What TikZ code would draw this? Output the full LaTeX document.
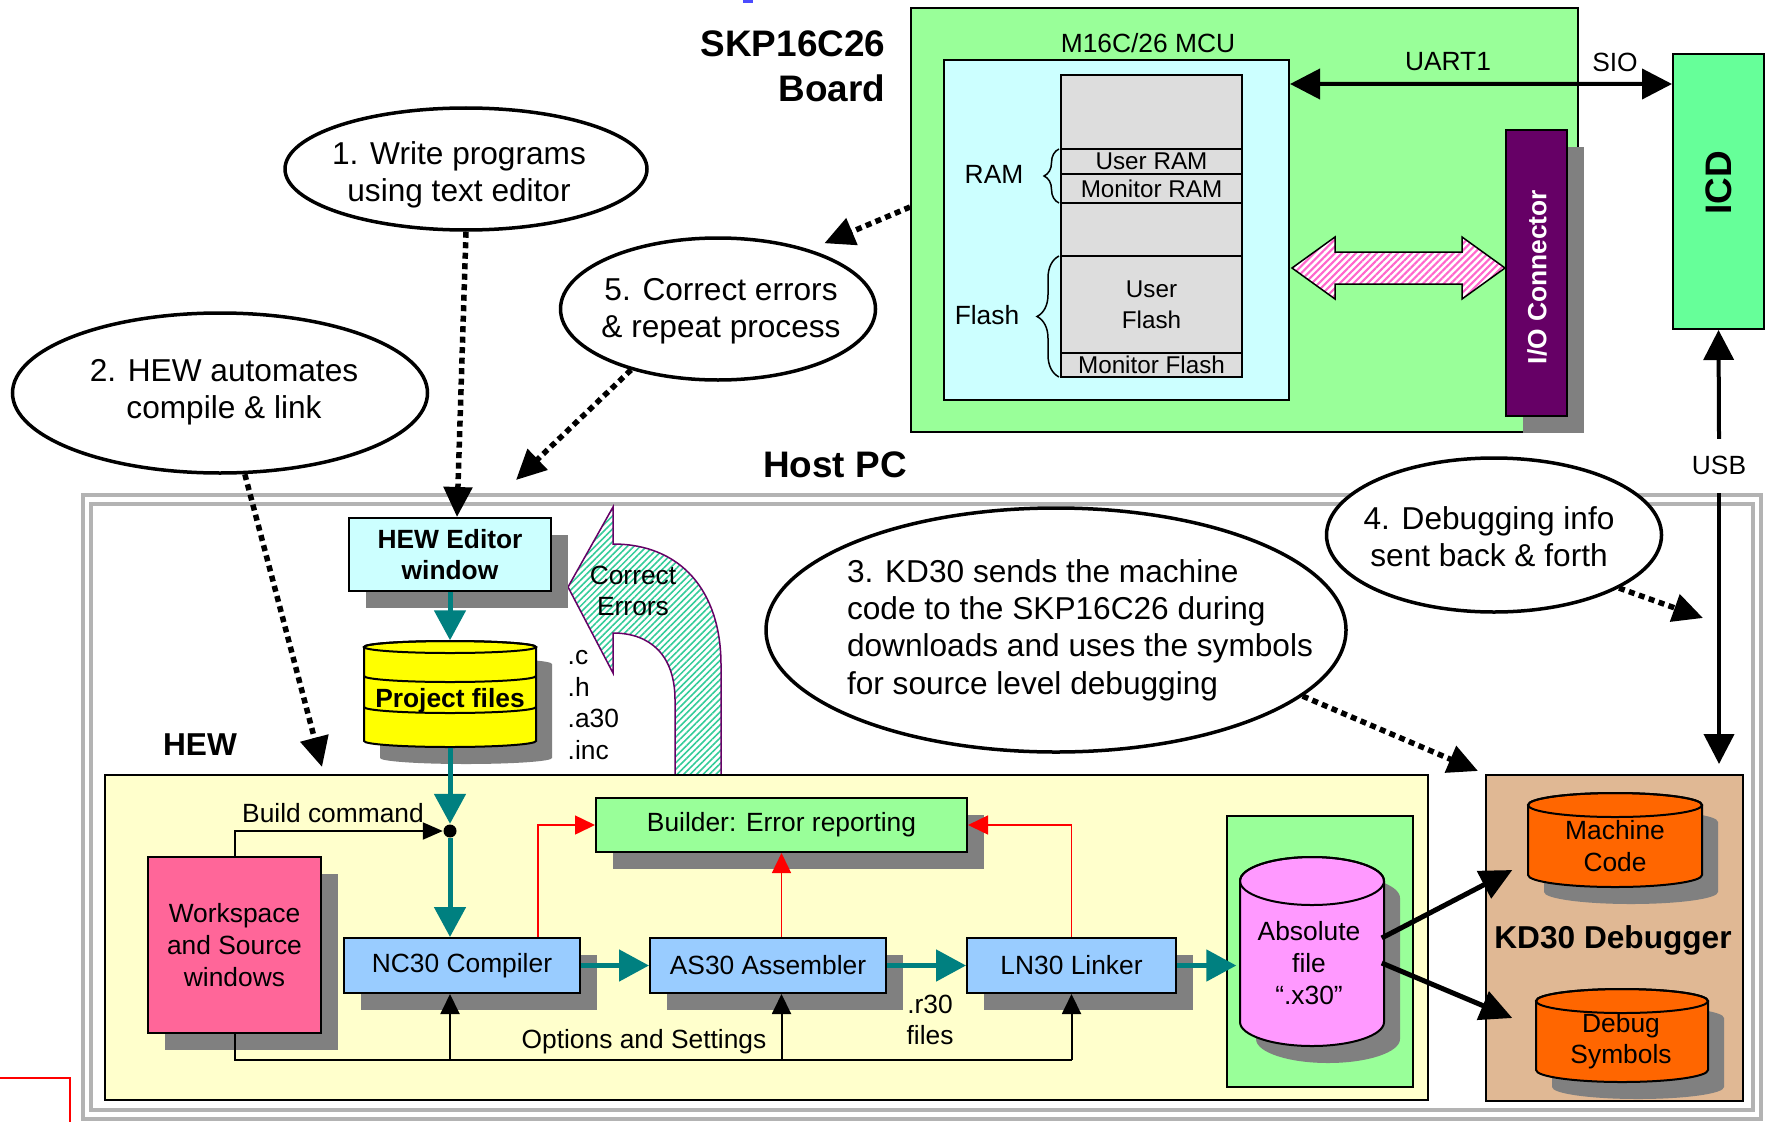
\documentclass[tikz,border=0pt]{standalone}
\usepackage{fontspec}
\setmainfont{Liberation Sans}
\usetikzlibrary{arrows.meta,shapes.geometric,shadows,patterns.meta,decorations.pathreplacing,positioning}

\definecolor{boardgreen}{HTML}{99FF99}
\definecolor{mcucyan}{HTML}{CCFFFF}
\definecolor{memgray}{HTML}{DDDDDD}
\definecolor{iopurple}{HTML}{660066}
\definecolor{icdgreen}{HTML}{66FF99}
\definecolor{hewyellow}{HTML}{FFFFCC}
\definecolor{wspink}{HTML}{FF6699}
\definecolor{toolblue}{HTML}{99CCFF}
\definecolor{abspink}{HTML}{FF99FF}
\definecolor{kdtan}{HTML}{E0B894}
\definecolor{kdorange}{HTML}{FF6600}
\definecolor{flowteal}{HTML}{008080}
\definecolor{shadowgray}{HTML}{808080}
\definecolor{framegray}{HTML}{B3B3B3}
\definecolor{stripepink}{HTML}{FF66CC}
\definecolor{stripegreen}{HTML}{33CC99}
\definecolor{pfyellow}{HTML}{FFFF00}

\newcommand{\smallf}{\fontsize{7.5}{9}\selectfont}
\newcommand{\memf}{\fontsize{6.9}{8.8}\selectfont}
\newcommand{\bubf}{\fontsize{9}{10.6}\selectfont}
\newcommand{\titlef}{\bfseries\fontsize{10.5}{12.7}\selectfont}

% cylinder with shadow: centre x, top y, bottom y, x radius, y radius, colour
\newcommand{\dbcyl}[6]{%
  \fill[shadowgray] ({#1-#4+16},{#2+#5+17}) -- ({#1-#4+16},{#3-#5+17})
    arc[start angle=180, end angle=0, x radius=#4, y radius=#5]
    -- ({#1+#4+16},{#2+#5+17})
    arc[start angle=0, end angle=-180, x radius=#4, y radius=#5] -- cycle;
  \filldraw[fill=#6, line width=0.2mm] ({#1-#4},{#2+#5}) -- ({#1-#4},{#3-#5})
    arc[start angle=180, end angle=0, x radius=#4, y radius=#5]
    -- ({#1+#4},{#2+#5})
    arc[start angle=0, end angle=-180, x radius=#4, y radius=#5] -- cycle;
  \draw[line width=0.2mm] ({#1},{#2+#5}) ellipse[x radius=#4, y radius=#5];%
}

\tikzset{
  box/.style={draw, line width=0.2mm, rectangle, inner sep=0pt, align=center},
  shadowed/.style={drop shadow={shadow xshift=1.65mm, shadow yshift=-1.7mm, fill=shadowgray, opacity=1}},
  bubble/.style={ellipse, draw, line width=0.35mm, fill=white, inner sep=0pt},
  bubtext/.style={font=\bubf, align=center},
  thickarr/.style={line width=0.4mm, >={Triangle[length=3mm,width=3mm]}},
  dotarr/.style={line width=0.55mm, dash pattern=on 0.6mm off 0.45mm, -{Triangle[length=3mm,width=2.8mm]}},
  flowarr/.style={line width=0.5mm, draw=flowteal, -{Triangle[length=3mm,width=3.1mm]}},
  redarr/.style={line width=0.15mm, draw=red, -{Triangle[length=2mm,width=1.9mm]}},
  optarr/.style={line width=0.2mm, -{Triangle[length=2mm,width=1.9mm]}},
  blackarr/.style={line width=0.5mm, -{Triangle[length=3.2mm,width=3mm]}}
}

\begin{document}
\begin{tikzpicture}[x=0.1mm, y=-0.1mm, font=\smallf]
    \useasboundingbox (0,0) rectangle (1766,1122);

    % stray marks at the page edges
    \draw[red, line width=0.25mm] (0,1078) -- (70,1078) -- (70,1122);
    \fill[blue!70] (743,0) rectangle (753,3);

    % Host PC frame (double grey line)
    \draw[framegray, line width=0.4mm] (83,495) rectangle (1761,1119);
    \draw[framegray, line width=0.4mm] (91,504) rectangle (1753,1110);

    % SKP16C26 board
    \node[box, fill=boardgreen, minimum width=66.7mm, minimum height=42.4mm] (board) at (1244.5,220) {};
    \node[box, fill=mcucyan, minimum width=34.5mm, minimum height=34mm] (mcu) at (1116.5,230) {};
    \node (mculbl) at (1148,43) {M16C/26 MCU};

    % memory map
    \node[box, fill=memgray, minimum width=18.1mm, minimum height=30.2mm] (mem) at (1151.5,226) {};
    \node[box, fill=memgray, font=\memf, minimum width=18.1mm, minimum height=2.5mm] (uram) at (1151.5,161.5) {User RAM};
    \node[box, fill=memgray, font=\memf, minimum width=18.1mm, minimum height=2.9mm] (mram) at (1151.5,188.5) {Monitor RAM};
    \node[box, fill=memgray, font=\memf, minimum width=18.1mm, minimum height=9.7mm] (uflash) at (1151.5,304.5) {User\\Flash};
    \node[box, fill=memgray, font=\memf, minimum width=18.1mm, minimum height=2.4mm] (mflash) at (1151.5,365) {Monitor Flash};
    \draw[line width=0.15mm, decorate, decoration={brace, amplitude=1.5mm}] (1059,203) -- (1059,149); % RAM
    \draw[line width=0.15mm, decorate, decoration={brace, amplitude=2.2mm}] (1059,377) -- (1059,256); % Flash
    \node (ramlbl) at (994,174) {RAM};
    \node (flashlbl) at (987,315) {Flash};

    % I/O connector and ICD
    \node[box, shadowed, fill=iopurple, minimum width=6.1mm, minimum height=28.6mm] (iocon) at (1536.5,273) {};
    \node[rotate=90, text=white, font=\bfseries\smallf] (iotxt) at (1537,277) {I/O Connector};
    \node[box, fill=icdgreen, minimum width=9.1mm, minimum height=27.5mm] (icd) at (1718.5,191.5) {};
    \node[rotate=90, font=\titlef] (icdtxt) at (1718.5,183) {ICD};

    % hatched double arrow MCU <-> I/O connector
    \draw[line width=0.15mm, preaction={fill=white}, pattern={Lines[angle=45,distance=1.4pt,line width=0.6pt]}, pattern color=stripepink]
        (1292,268) -- (1335,237) -- (1335,252) -- (1462,252) -- (1462,237) -- (1505,268)
        -- (1462,299) -- (1462,284) -- (1335,284) -- (1335,299) -- cycle;

    % UART1 / SIO link
    \draw[thickarr, <->] ([yshift=-2.5mm]mcu.north east) -- ([yshift=-3.1mm]icd.north west);
    \node (uartlbl) at (1448,62) {UART1};
    \node (siolbl) at (1615,62) {SIO};

    % titles
    \node[font=\titlef, align=right, anchor=east, inner sep=0pt] (skplbl) at (886,66) {SKP16C26\\Board};
    \node[font=\titlef] (hostlbl) at (835,465) {Host PC};
    \node[font=\bfseries\fontsize{9}{10.8}\selectfont] (hewlbl) at (200,745) {HEW};

    % Correct Errors curved arrow
    \draw[draw=iopurple, line width=0.15mm, preaction={fill=white}, pattern={Lines[angle=45,distance=1.3pt,line width=0.45pt]}, pattern color=stripegreen]
        (675,775) -- (675,700) .. controls (675,655) and (650,633) .. (613,633) -- (613,673) -- (568,587)
        -- (613,507) -- (613,544) .. controls (680,544) and (721,590) .. (721,665) -- (721,775);
    \node[align=center] (corrlbl) at (633,591) {Correct\\Errors};

    % HEW area
    \node[box, fill=hewyellow, minimum width=132.3mm, minimum height=32.5mm] (hew) at (766.5,937.5) {};
    \node[box, shadowed, fill=mcucyan, minimum width=20.2mm, minimum height=7.3mm, font=\bfseries\smallf] (editor) at (450,554.5) {HEW Editor\\window};

    % project files cylinder
    \dbcyl{450}{641}{747}{86}{6}{pfyellow}
    \draw[line width=0.2mm] (364,676) arc[start angle=180, end angle=0, x radius=86, y radius=6];
    \draw[line width=0.2mm] (364,707) arc[start angle=180, end angle=0, x radius=86, y radius=6];
    \node[font=\bfseries\smallf, minimum width=17.2mm, minimum height=9.2mm] (pfiles) at (450,701) {Project files};
    \node[align=left, anchor=west, inner sep=0pt] (exts) at (567,705) {.c\\.h\\.a30\\.inc};

    % tool chain
    \node[box, shadowed, fill=wspink, minimum width=17.3mm, minimum height=17.6mm] (ws) at (234.5,945) {Workspace\\and Source\\windows};
    \node[box, shadowed, fill=boardgreen, minimum width=37.1mm, minimum height=5.4mm] (builder) at (781.5,825) {Builder: Error reporting};
    \node[box, shadowed, fill=toolblue, minimum width=23.6mm, minimum height=5.5mm] (nc30) at (462,965.5) {NC30 Compiler};
    \node[box, shadowed, fill=toolblue, minimum width=23.6mm, minimum height=5.5mm] (as30) at (768,965.5) {AS30 Assembler};
    \node[box, shadowed, fill=toolblue, minimum width=20.9mm, minimum height=5.5mm] (ln30) at (1071.5,965.5) {LN30 Linker};
    \node[circle, fill=black, inner sep=0pt, minimum size=1.3mm] (jn) at (450,831) {};
    \node (buildlbl) at (333,813) {Build command};
    \node (optlbl) at (644,1042) {Options and Settings};
    \node[align=center] (r30lbl) at (930,1020) {.r30\\files};
    \coordinate (optline) at (0,1060);

    % absolute file
    \node[box, fill=boardgreen, minimum width=18.6mm, minimum height=27.1mm] (absbox) at (1320,951.5) {};
    \dbcyl{1312}{857}{1046}{72}{24}{abspink}
    \node[align=center, minimum width=14.4mm, minimum height=18.9mm] (absfile) at (1309,963) {Absolute\\file\\“.x30”};

    % KD30 debugger
    \node[box, fill=kdtan, minimum width=25.7mm, minimum height=32.6mm] (kd30) at (1614.5,938) {};
    \dbcyl{1615}{793}{887}{87}{12}{kdorange}
    \node[align=center, minimum width=17.4mm] (mcode) at (1615,846) {Machine\\Code};
    \dbcyl{1622}{989}{1082}{86}{12}{kdorange}
    \node[align=center, minimum width=17.2mm] (dsym) at (1621,1041) {Debug\\Symbols};
    \node[font=\bfseries\fontsize{9}{10.8}\selectfont] (kd30lbl) at (1613,940) {KD30 Debugger};

    % teal data flow
    \draw[flowarr] (editor.south) -- ([yshift=1.4mm]pfiles.north);
    \draw[flowarr] (pfiles.south) -- (jn);
    \draw[flowarr] (jn) -- (jn |- nc30.north);
    \draw[flowarr] (nc30) -- (as30);
    \draw[flowarr] (as30) -- (ln30);
    \draw[flowarr] (ln30.east) -- (ln30.east -| absfile.west);

    % build command and options
    \draw[line width=0.2mm, -{Triangle[length=2mm,width=1.7mm]}] (ws.north) |- (jn);
    \draw[line width=0.2mm] (ws.south) |- (ln30.south |- optline);
    \draw[optarr] (jn |- optline) -- (jn |- nc30.south);
    \draw[optarr] (builder.south |- optline) -- (builder.south |- as30.south);
    \draw[optarr] (ln30.south |- optline) -- (ln30.south);

    % error reporting (red)
    \draw[redarr] ([xshift=7.6mm]nc30.north) |- (builder.west);
    \draw[redarr] (builder.south |- as30.north) -- (builder.south);
    \draw[redarr] (ln30.north) |- (builder.east);

    % absolute file into the debugger
    \draw[blackarr] ([yshift=2.5mm]absfile.east) -- ([xshift=-1.5mm,yshift=-2.4mm]mcode.west);
    \draw[blackarr] (absfile.east) -- ([xshift=-2.2mm,yshift=2.3mm]dsym.west);

    % USB link
    \node[inner sep=0pt] (usb) at (1719,465) {USB};
    \draw[thickarr, ->] ([yshift=1.6mm]usb.north) -- (icd.south);
    \draw[thickarr, ->, shorten >=1mm] ([yshift=-1.8mm]usb.south) -- (usb.south |- kd30.north);

    % numbered notes
    \node[bubble, minimum width=36.2mm, minimum height=12.2mm] (ell1) at (466,169) {};
    \node[bubtext] (ell1txt) at (459,175) {1. Write programs\\using text editor};
    \node[bubble, minimum width=41.5mm, minimum height=16mm] (ell2) at (220,393) {};
    \node[bubtext] (ell2txt) at (224,392) {2. HEW automates\\compile \& link};
    \node[bubble, minimum width=31.5mm, minimum height=14.2mm] (ell5) at (718,309) {};
    \node[bubtext] (ell5txt) at (721,311) {5. Correct errors\\\& repeat process};
    \node[bubble, minimum width=58mm, minimum height=24.4mm] (ell3) at (1056,630) {};
    \node[bubtext, align=left] (ell3txt) at (1080,630) {3. KD30 sends the machine\\code to the SKP16C26 during\\downloads and uses the symbols\\for source level debugging};
    \node[bubble, minimum width=33.5mm, minimum height=15.4mm] (ell4) at (1494,535) {};
    \node[bubtext] (ell4txt) at (1489,537) {4. Debugging info\\sent back \& forth};

    % dotted pointers
    \coordinate (pcpoint) at (516,480);
    \coordinate (dbgpoint) at (1703,618);
    \draw[dotarr] (ell1.south) -- ([xshift=0.7mm]editor.north);
    \draw[dotarr] (ell2.287) -- ([xshift=21.8mm,yshift=0.7mm]hew.north west);
    \draw[dotarr, shorten >=1.6mm] ([yshift=1.3mm]board.west) -- (ell5.33);
    \draw[dotarr] (ell5.215) -- (pcpoint);
    \draw[dotarr] (ell4.337) -- (dbgpoint);
    \draw[dotarr] (ell3.345) -- ([xshift=-0.7mm,yshift=0.3mm]kd30.north west);

\end{tikzpicture}
\end{document}
